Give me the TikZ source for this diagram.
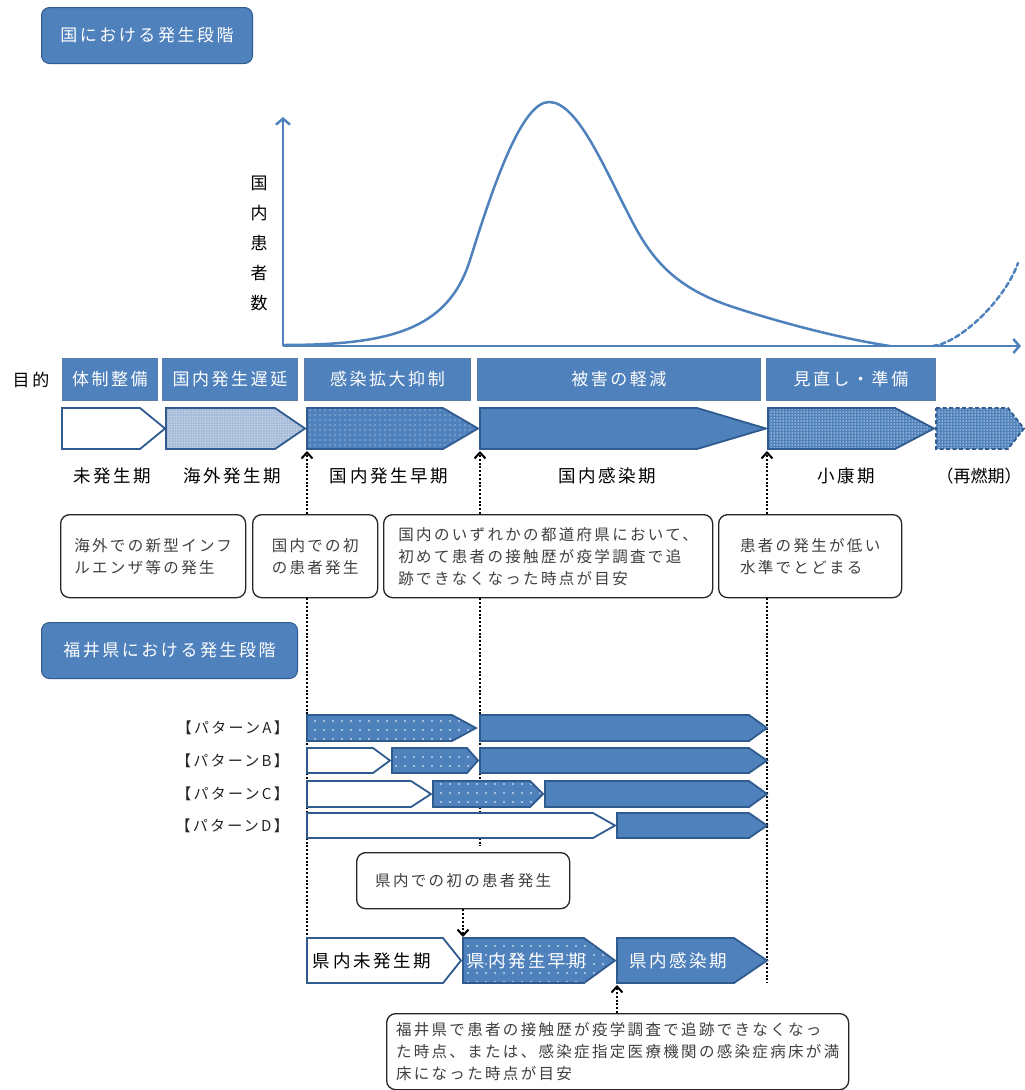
\documentclass[tikz,border=0pt]{standalone}
\usepackage{fontspec}
\setmainfont[LetterSpace=15]{Noto Sans CJK JP}
\newfontfamily\plainjp{Noto Sans CJK JP}
\usetikzlibrary{arrows.meta,patterns.meta}
\definecolor{mblue}{HTML}{4F81BD}
\definecolor{dblue}{HTML}{2F5B8F}
\definecolor{lblue}{HTML}{A9BDDB}
\definecolor{tgray}{HTML}{404040}
\newcommand{\fsz}[1]{\fontsize{#1}{#1}\selectfont}
\newcommand{\chevshape}[6][]{%
  \path[#1] (#2,#5) -- (#3,#5) -- (#4,{(#5+#6)/2}) -- (#3,#6) -- (#2,#6) -- cycle;}
\tikzset{
  titlebox/.style={draw=dblue, line width=1pt, fill=mblue, rounded corners=8pt, text=white, font=\fsz{17}, anchor=north west, inner sep=0pt},
  objbox/.style={draw=dblue!80, line width=0.8pt, fill=mblue, text=white, font=\fsz{17}, anchor=north west, inner sep=0pt, minimum height=42pt},
  notebox/.style={draw=black!85, line width=1.3pt, fill=white, rounded corners=9pt, anchor=north west, inner sep=0pt, align=left, text=tgray, font=\fontsize{15.5}{22}\selectfont},
  phase/.style={font=\fsz{17.5}, text=black, inner sep=0pt},
  patlab/.style={font=\fsz{15}, text=black!85, inner sep=0pt, anchor=east},
  chevline/.style={postaction={draw=dblue, line width=1.8pt, line join=miter}},
  chwhite/.style={fill=white, chevline},
  chsolid/.style={fill=mblue, chevline},
  chlight/.style={fill=lblue, postaction={pattern={Dots[distance=2.6pt,radius=0.55pt]}, pattern color=white!60!lblue}, chevline},
  chdots/.style={fill=mblue, postaction={pattern={Dots[distance=5pt,radius=0.7pt]}, pattern color=white!85!mblue}, chevline},
  chsparse/.style={fill=mblue, postaction={pattern={Dots[distance=9pt,radius=0.9pt]}, pattern color=white}, chevline},
  chfine/.style={fill=mblue, postaction={pattern={Dots[distance=3pt,radius=0.75pt]}, pattern color=white!75!mblue}, chevline},
  chdash/.style={fill=mblue, postaction={pattern={Dots[distance=3pt,radius=0.75pt]}, pattern color=white!75!mblue},
    postaction={draw=dblue, line width=1.8pt, dash pattern=on 4pt off 2.5pt}},
  dotln/.style={draw=black, line width=2pt, dash pattern=on 2pt off 1.8pt},
  dotarr/.style={dotln, -{Straight Barb[length=6pt,width=11pt]}},
  axisln/.style={draw=mblue, line width=2.5pt, -{Straight Barb[length=6pt,width=14pt]}},
  curveln/.style={draw=mblue, line width=2.5pt, line cap=round},
}
\begin{document}
\begin{tikzpicture}[x=1pt,y=-1pt]
\useasboundingbox (0,0) rectangle (1025,1090);

% titles
\node[titlebox, minimum width=211pt, minimum height=56pt] (t1) at (41,7) {国における発生段階};
\node[titlebox, minimum width=256pt, minimum height=56pt] (t2) at (41,622) {福井県における発生段階};

% chart
\coordinate (org) at (283,346);
\coordinate (ytop) at (283,117);
\coordinate (xend) at (1021,346);
\draw[axisln] (org) -- (ytop);
\draw[axisln] (org) -- (xend);
\node[font=\fontsize{17}{30}\selectfont, align=center, inner sep=0pt] (ylab) at (259,243) {国\\内\\患\\者\\数};
\draw[curveln] (283,345) .. controls (390,345) and (448,330) .. (470,260)
  .. controls (494,183) and (522,102) .. (549,102)
  .. controls (578,102) and (605,170) .. (633,223)
  .. controls (652,259) and (675,288) .. (733,307)
  .. controls (791,326) and (850,340) .. (890,346);
\draw[curveln, dash pattern=on 5pt off 3pt] (933,346) .. controls (960,343) and (1005,300) .. (1018,263);

% objectives
\node[font=\fsz{17}, inner sep=0pt] (goal) at (31,380) {目的};
\node[objbox, minimum width=95pt] (o1) at (62,358) {体制整備};
\node[objbox, minimum width=135pt] (o2) at (162,358) {国内発生遅延};
\node[objbox, minimum width=166pt] (o3) at (304,358) {感染拡大抑制};
\node[objbox, minimum width=283pt] (o4) at (477,358) {被害の軽減};
\node[objbox, minimum width=169pt] (o5) at (766,358) {見直し・準備};

% dotted guide lines (behind)
\coordinate (a1) at (307,451);
\coordinate (a2) at (480,451);
\coordinate (a3) at (767,451);
\coordinate (e1) at (307,983);
\coordinate (e2) at (480,846);
\coordinate (e3) at (767,983);

% note boxes
\node[notebox, minimum width=185pt, minimum height=83pt] (b1) at (60,514) {海外での新型インフ\\ルエンザ等の発生};
\node[notebox, minimum width=125pt, minimum height=83pt] (b2) at (252,514) {国内での初\\の患者発生};
\node[notebox, minimum width=329pt, minimum height=83pt] (b3) at (383,514) {国内のいずれかの都道府県において、\\初めて患者の接触歴が疫学調査で追\\跡できなくなった時点が目安};
\node[notebox, minimum width=183pt, minimum height=83pt] (b4) at (718,514) {患者の発生が低い\\水準でとどまる};

\draw[dotln] (b2.south -| a1) -- (e1);
\draw[dotln] (b3.south -| a2) -- (e2);
\draw[dotln] (b4.south -| a3) -- (e3);

% national phase chevrons
\chevshape[chwhite]{62}{140}{165}{408}{449}
\chevshape[chlight]{166}{275}{305}{408}{449}
\chevshape[chdots]{307}{443}{478}{408}{449}
\chevshape[chsolid]{480}{697}{766}{408}{449}
\chevshape[chfine]{768}{895}{934}{408}{449}
\chevshape[chdash]{936}{1008}{1024}{408}{449}

\draw[dotarr] (b2.north -| a1) -- (a1);
\draw[dotarr] (b3.north -| a2) -- (a2);
\draw[dotarr] (b4.north -| a3) -- (a3);

% phase labels
\node[phase] (p1) at (112,476) {未発生期};
\node[phase] (p2) at (232,476) {海外発生期};
\node[phase] (p3) at (389,476) {国内発生早期};
\node[phase] (p4) at (607,476) {国内感染期};
\node[phase] (p5) at (846,476) {小康期};
\node[phase, font=\plainjp\fsz{17}] (p6) at (979,476) {（再燃期）};

% patterns
\node[patlab] (la) at (289,728) {【パターンA】};
\node[patlab] (lb) at (289,761) {【パターンB】};
\node[patlab] (lc) at (289,794) {【パターンC】};
\node[patlab] (ld) at (289,826) {【パターンD】};

\chevshape[chsparse]{307}{452}{476}{715}{741}
\chevshape[chsolid]{480}{749}{767}{715}{741}

\chevshape[chwhite]{307}{373}{390}{748}{773}
\chevshape[chsparse]{392}{467}{478}{748}{773}
\chevshape[chsolid]{480}{749}{767}{748}{773}

\chevshape[chwhite]{307}{411}{431}{781}{807}
\chevshape[chsparse]{433}{530}{543}{781}{807}
\chevshape[chsolid]{545}{749}{767}{781}{807}

\chevshape[chwhite]{307}{593}{615}{813}{838}
\chevshape[chsolid]{617}{749}{767}{813}{838}

% prefecture row
\node[notebox, minimum width=213pt, minimum height=56pt] (k0) at (356,852) {県内での初の患者発生};
\chevshape[chwhite]{307}{443}{461}{938}{983}
\chevshape[chsparse]{463}{584}{615}{938}{983}
\chevshape[chsolid]{617}{734}{767}{938}{983}
\node[phase] (k1) at (372,961) {県内未発生期};
\node[phase, text=white] (k2) at (527,961) {県内発生早期};
\node[phase, text=white] (k3) at (678,961) {県内感染期};
\coordinate (k2top) at (463,937);
\coordinate (k3bot) at (617,985);
\draw[dotarr] (k0.south -| k2top) -- (k2top);

\node[notebox, minimum width=462pt, minimum height=76pt] (k4) at (386,1013) {福井県で患者の接触歴が疫学調査で追跡できなくなっ\\た時点、または、感染症指定医療機関の感染症病床が満\\床になった時点が目安};
\draw[dotarr] (k4.north -| k3bot) -- (k3bot);
\end{tikzpicture}
\end{document}
